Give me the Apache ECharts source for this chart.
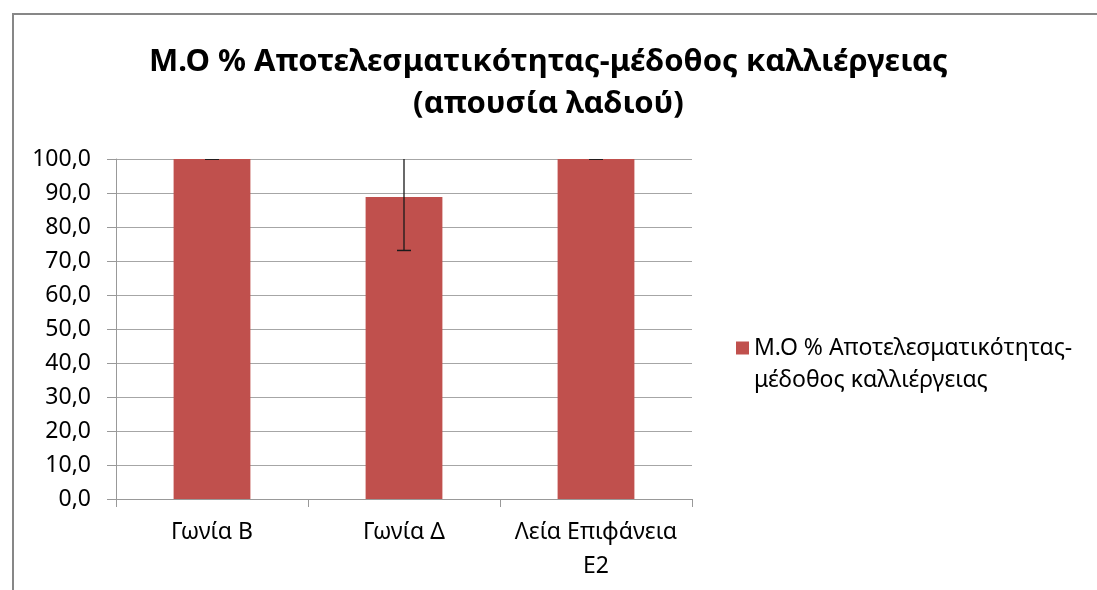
<!DOCTYPE html>
<html>
<head>
<meta charset="utf-8">
<script src="https://cdn.jsdelivr.net/npm/echarts@6/dist/echarts.min.js"></script>
<style>
html,body{margin:0;padding:0;background:#fff;}
#c{width:1097px;height:590px;}
</style>
</head>
<body>
<div id="c"></div>
<script>
var titleLines = ['Μ.Ο % Αποτελεσματικότητας-μέδοθος καλλιέργειας', '(απουσία λαδιού)'];
var seriesName = 'Μ.Ο % Αποτελεσματικότητας-μέδοθος καλλιέργειας';
var categories = ['Γωνία Β', 'Γωνία Δ', 'Λεία Επιφάνεια Ε2'];
var means = [100.0, 88.8, 100.0];
var errors = [0, 15.7, 0];
var yTicks = {min: 0, max: 100, interval: 10};

var chart = echarts.init(document.getElementById('c'));
var FONT = 'Noto Sans';

var errData = means.map(function (m, i) { return [i, m - errors[i], m + errors[i]]; });

chart.setOption({
  animation: false,
  backgroundColor: '#fff',
  title: {
    text: titleLines.join('\n'),
    left: 'center',
    top: 36,
    textStyle: {fontFamily: FONT, fontWeight: 'bold', fontSize: 31, lineHeight: 42, color: '#000'}
  },
  graphic: [{
    type: 'rect', shape: {x: 13, y: 14, width: 1200, height: 700},
    style: {fill: 'none', stroke: '#878787', lineWidth: 2}, silent: true
  }],
  legend: {
    left: 731, top: 295,
    itemWidth: 13, itemHeight: 13, itemGap: 10,
    icon: 'rect',
    formatter: function (n) { return '\n' + n.replace('-', '-\n'); },
    textStyle: {fontFamily: FONT, fontSize: 23, lineHeight: 32, color: '#000'},
    data: [seriesName]
  },
  grid: {left: 116, top: 159, width: 576, height: 340, containLabel: false, outerBoundsMode: 'none'},
  xAxis: {
    type: 'category',
    data: categories,
    axisLine: {lineStyle: {color: '#999', width: 1}},
    axisTick: {show: true, length: 8, alignWithLabel: false, lineStyle: {color: '#999'}},
    axisLabel: {fontFamily: FONT, fontSize: 23, color: '#000', margin: 16, lineHeight: 34, interval: 0,
      formatter: function (v) { return v.length > 10 ? v.replace(/ (\S+)$/, '\n$1') : v; }}
  },
  yAxis: {
    type: 'value', min: yTicks.min, max: yTicks.max, interval: yTicks.interval,
    axisLine: {show: true, lineStyle: {color: '#999'}},
    axisTick: {show: true, length: 9, lineStyle: {color: '#999'}},
    splitLine: {lineStyle: {color: '#a6a6a6', width: 1}},
    axisLabel: {fontFamily: FONT, fontSize: 23, color: '#000', margin: 25,
      formatter: function (v) { return v.toFixed(1).replace('.', ','); }}
  },
  series: [{
    name: seriesName,
    type: 'bar',
    data: means,
    barWidth: '40%',
    itemStyle: {color: '#C0504D'}
  }, {
    type: 'custom',
    name: 'err',
    clip: true,
    data: errData,
    z: 10,
    renderItem: function (params, api) {
      var x = api.value(0);
      var lo = api.coord([x, api.value(1)]);
      var hi = api.coord([x, api.value(2)]);
      var cw = 7;
      var top = Math.max(hi[1], params.coordSys.y);
      var children = [
        {type: 'line', shape: {x1: lo[0], y1: lo[1], x2: hi[0], y2: top}, style: {stroke: '#1a1a1a', lineWidth: 1.3}},
        {type: 'line', shape: {x1: lo[0] - cw, y1: lo[1], x2: lo[0] + cw, y2: lo[1]}, style: {stroke: '#1a1a1a', lineWidth: 1.5}}
      ];
      if (hi[1] >= params.coordSys.y) {
        children.push({type: 'line', shape: {x1: hi[0] - cw, y1: hi[1], x2: hi[0] + cw, y2: hi[1]}, style: {stroke: '#1a1a1a', lineWidth: 1.5}});
      }
      return {type: 'group', children: children};
    },
    silent: true
  }]
});
</script>
</body>
</html>
